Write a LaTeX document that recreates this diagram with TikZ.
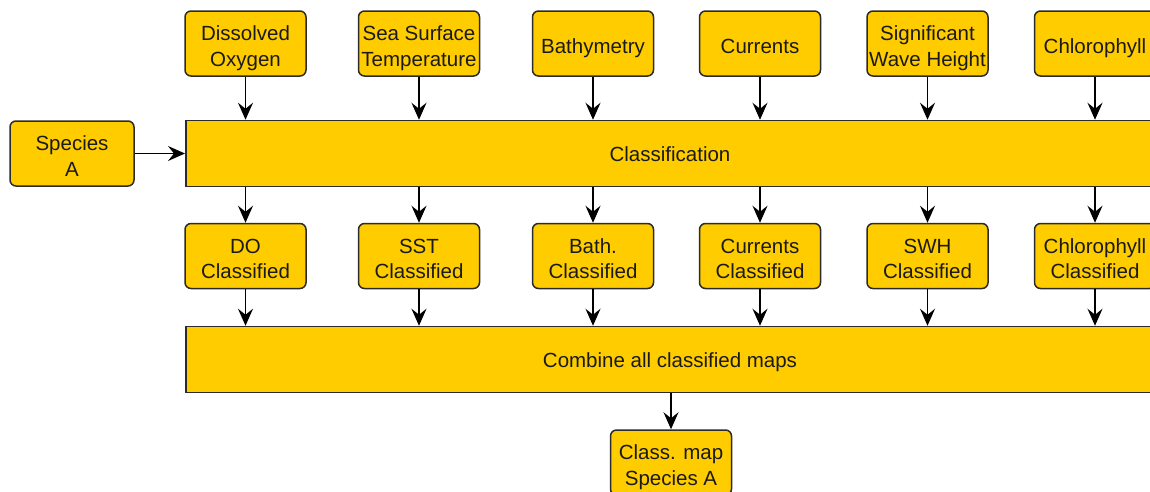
\documentclass[tikz,border=0pt]{standalone}
\usepackage{fontspec}
\setmainfont{Liberation Sans}
\usetikzlibrary{arrows.meta}
\definecolor{boxfill}{HTML}{FFCC00}
\definecolor{boxline}{HTML}{2B2B2B}
\definecolor{txt}{HTML}{1A1A1A}
\tikzset{
  lbl/.style={text=txt, font=\fontsize{20.5pt}{25.5pt}\selectfont, text depth=0pt},
  box/.style={lbl, draw=boxline, fill=boxfill, line width=1.5pt,
    rounded corners=6pt, minimum width=121pt, minimum height=65pt, inner sep=0pt,
    align=center, execute at begin node={\rule{0pt}{19pt}}},
  two/.style={text height=45pt, text depth=0pt},
  wide/.style={draw=boxline, fill=boxfill, line width=1.5pt,
    minimum width=972pt, minimum height=66pt, inner sep=0pt},
  arr/.style={draw=black, line width=1.5pt,
    -{Stealth[length=17pt, width=15pt, inset=6pt]}}
}
\begin{document}
\begin{tikzpicture}[x=1pt, y=-1pt]
  \useasboundingbox (0,0) rectangle (1150,491);
  \clip (0,0) rectangle (1150,491);
  % input layers
  \node[box, two] (do)  at (245.5,43.5) {Dissolved\\Oxygen};
  \node[box, two] (sst) at (419,43.5)   {Sea Surface\\Temperature};
  \node[box] (bat) at (593,43.5)   {Bathymetry};
  \node[box] (cur) at (760,43.5)   {Currents};
  \node[box, two] (swh) at (927.5,43.5) {Significant\\Wave Height};
  \node[box] (chl) at (1095,43.5)  {Chlorophyll};
  % species and classification step
  \node[box, two, minimum width=124pt] (spa) at (72,153.5) {Species\\A};
  \node[wide, anchor=west] (cls) at (185,153.5) {};
  \node[lbl] (clst) at (670,154) {Classification};
  % classified layers
  \node[box, two] (doc)  at (245.5,256) {DO\\Classified};
  \node[box, two] (sstc) at (419,256)   {SST\\Classified};
  \node[box, two] (batc) at (593,256)   {Bath.\\Classified};
  \node[box, two] (curc) at (760,256)   {Currents\\Classified};
  \node[box, two] (swhc) at (927.5,256) {SWH\\Classified};
  \node[box, two] (chlc) at (1095,256)  {Chlorophyll\\Classified};
  % combination and result
  \node[wide, anchor=west] (cmb) at (185,359.5) {};
  \node[lbl] (cmbt) at (670,360.5) {Combine all classified maps};
  \node[box, two] (map) at (671,462.5) {Class. map\\Species A};
  % connectors
  \draw[arr] (spa.east) -- (cls.west |- spa.east);
  \foreach \n in {do,sst,bat,cur,swh,chl}{
    \draw[arr] (\n.south) -- (\n.south |- cls.north);
    \draw[arr] (\n.south |- cls.south) -- (\n c.north);
    \draw[arr] (\n c.south) -- (\n c.south |- cmb.north);
  }
  \draw[arr] (map.north |- cmb.south) -- (map.north);
\end{tikzpicture}
\end{document}
